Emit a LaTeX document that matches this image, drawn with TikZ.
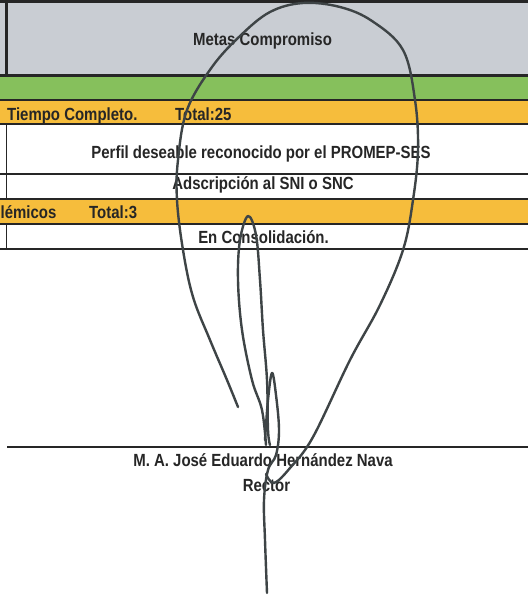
\documentclass[tikz,border=0pt]{standalone}
\usepackage{fontspec}
\setmainfont{Liberation Sans}[FakeStretch=0.85]
\definecolor{metagris}{HTML}{C9CDD3}
\definecolor{metaverde}{HTML}{86C05C}
\definecolor{metanaranja}{HTML}{F6BD3C}
\definecolor{tinta}{HTML}{262626}
\definecolor{firma}{HTML}{3E4446}

\begin{document}
\begin{tikzpicture}[x=1pt,y=-1pt]
      \tikzstyle{every node}+=[inner sep=0pt, text=tinta, font=\fontsize{17.6}{19}\selectfont\bfseries]
      \tikzstyle{raya}=[tinta, line width=1.6pt]
      \tikzstyle{trazo}=[firma, line width=2.4pt, line cap=round, line join=round]
      \useasboundingbox (0,0) rectangle (528,600);
      \clip (0,0) rectangle (528,600);
      \fill [white] (0,0) rectangle (528,600);
      \fill [metagris] (0,0) rectangle (528,75);
      \fill [metaverde] (0,75) rectangle (528,100);
      \fill [metanaranja] (0,100) rectangle (528,124);
      \fill [metanaranja] (0,199) rectangle (528,224);
      \draw [raya, line width=2.6pt] (0,1.5) -- (528,1.5);
      \draw [raya, line width=2.8pt] (0,75.5) -- (528,75.5);
      \draw [raya, line width=2.2pt] (6.5,1.5) -- (6.5,75.5);
      \foreach \y in {100,124,174,199,224,249} \draw [raya] (0,\y) -- (528,\y);
      \foreach \a/\b in {124/174,174/199,224/249} \draw [raya, line width=1.8pt] (6.5,\a) -- (6.5,\b);
      \draw [raya] (7,447) -- (528,447);
      \node [anchor=base] (metas) at (262.5,45.5) {Metas Compromiso};
      \node [anchor=base west] (tiempo) at (7,120) {Tiempo Completo.};
      \node [anchor=base west] (total25) at (175,120) {Total:25};
      \node [anchor=base] (perfil) at (261,158) {Perfil deseable reconocido por el PROMEP-SES};
      \node [anchor=base] (snisnc) at (263,189) {Adscripción al SNI o SNC};
      \node [anchor=base west] (academicos) at (0.5,218.5) {lémicos};
      \node [anchor=base west] (total3) at (89,218.5) {Total:3};
      \node [anchor=base] (consolida) at (263.5,243) {En Consolidación.};
      \node [anchor=base] (nombre) at (263,466.5) {M. A. José Eduardo Hernández Nava};
      \node [anchor=base] (cargo) at (266.5,491.5) {Rector};
      \draw [trazo] plot [smooth, tension=0.6] coordinates {(238,407) (227,380) (210,340) (193,297) (183,250) (177,200) (178,160) (187,110) (212,67) (240,36) (270,12) (303,3) (340,7) (372,21) (403,50) (415,100) (418,150) (413,200) (403,250) (380,305) (350,360) (313,437) (290,468) (274,483) (266,474)};
      \draw [trazo] plot [smooth, tension=0.6] coordinates {(266,445) (262,410) (252,380) (242,330) (238,280) (240,240) (248,216) (256,235) (260,280) (263,330) (267,380) (268,430) (270,445)};
      \draw [trazo] plot [smooth, tension=0.6] coordinates {(265,440) (268,400) (272,373) (276,395) (279,430) (276,455) (268,470) (264,500) (265,540) (267,593)};
\end{tikzpicture}
\end{document}
